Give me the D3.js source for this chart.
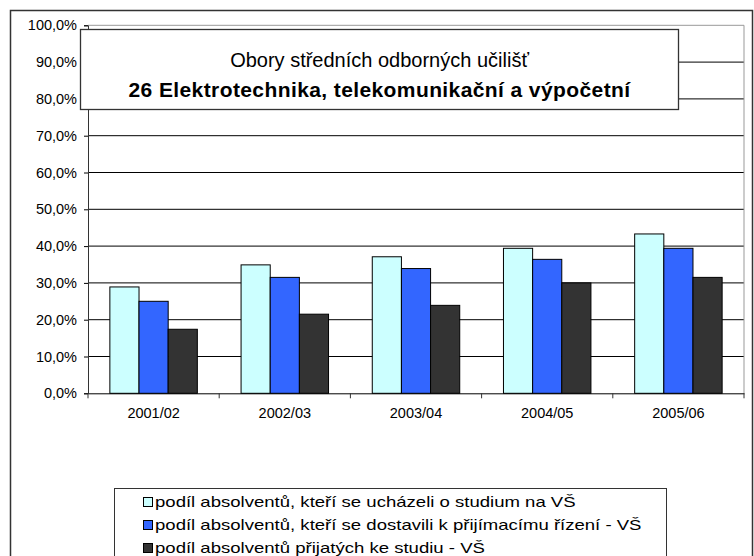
<!DOCTYPE html>
<html><head><meta charset="utf-8">
<script src="https://cdn.jsdelivr.net/npm/d3@7/dist/d3.min.js"></script>
<style>body{margin:0;background:#fff}svg{display:block;font-family:"Liberation Sans",Arial,sans-serif}</style>
</head><body>
<script>
const categories = ["2001/02","2002/03","2003/04","2004/05","2005/06"];
const seriesNames = [
  "podíl absolventů, kteří se ucházeli o studium na VŠ",
  "podíl absolventů, kteří se dostavili k přijímacímu řízení - VŠ",
  "podíl absolventů přijatých ke studiu - VŠ"
];
const applied  = [28.9, 34.9, 37.1, 39.4, 43.3];
const attended = [25.0, 31.5, 33.9, 36.4, 39.4];
const accepted = [17.4, 21.5, 23.9, 30.0, 31.5];
const yTicks = [0,10,20,30,40,50,60,70,80,90,100];
const colors = ["#CCFFFF","#3366FF","#333333"];
const titleLines = ["Obory středních odborných učilišť","26 Elektrotechnika, telekomunikační a výpočetní"];

const W=754,H=556;
const svg=d3.select("body").append("svg").attr("width",W).attr("height",H);
svg.append("rect").attr("x",10.5).attr("y",10.5).attr("width",742).attr("height",600).attr("fill","#fff").attr("stroke","#333").attr("stroke-width",1.5);

const L=88,R=744,T=25.3,B=393.3;
const x=d3.scaleBand().domain(categories).range([L,R]).paddingInner(0).paddingOuter(0);
const y=d3.scaleLinear().domain([0,100]).range([B,T]);
const series=[applied,attended,accepted];
const bw=x.bandwidth()/(3+1.5);
const x1=d3.scaleBand().domain([0,1,2]).range([0,bw*3]);

// gridlines
svg.append("g").selectAll("line").data(yTicks.filter(d=>d>0)).join("line")
  .attr("x1",L).attr("x2",R).attr("y1",d=>y(d)).attr("y2",d=>y(d))
  .attr("stroke",d=>d===100?"#999":"#000").attr("stroke-width",1);
svg.append("line").attr("x1",R).attr("x2",R).attr("y1",T).attr("y2",B).attr("stroke","#999");

// bars
const g=svg.append("g");
series.forEach((vals,si)=>{
  g.selectAll(null).data(vals).join("rect")
   .attr("x",(d,i)=>x(categories[i])+bw*0.75+x1(si))
   .attr("y",d=>y(d)).attr("width",x1.bandwidth()).attr("height",d=>B-y(d))
   .attr("fill",colors[si]).attr("stroke","#000").attr("stroke-width",1);
});

// axes
const ya=svg.append("g").attr("transform",`translate(${L},0)`)
  .call(d3.axisLeft(y).tickValues(yTicks).tickSize(4).tickPadding(7).tickFormat(d=>d.toFixed(1).replace(".",",")+"%"));
ya.select(".domain").attr("stroke","#333");
ya.selectAll("text").attr("font-size",14.5).attr("fill","#000").attr("font-family","Liberation Sans, Arial, sans-serif");
const xa=svg.append("g").attr("transform",`translate(0,${B})`)
  .call(d3.axisBottom(x).tickSize(0).tickPadding(14));
xa.select(".domain").attr("stroke","#000");
xa.selectAll("text").attr("font-size",14.5).attr("fill","#000").attr("font-family","Liberation Sans, Arial, sans-serif");
svg.append("g").selectAll("line").data(d3.range(categories.length+1)).join("line")
  .attr("x1",i=>L+i*x.bandwidth()).attr("x2",i=>L+i*x.bandwidth()).attr("y1",B).attr("y2",B+5).attr("stroke","#333");

// title box
svg.append("rect").attr("x",80.5).attr("y",29.5).attr("width",598).attr("height",80).attr("fill","#fff").attr("stroke","#333").attr("stroke-width",1.3);
svg.append("text").attr("x",379.5).attr("y",67).attr("text-anchor","middle").attr("font-size",20).text(titleLines[0]);
svg.append("text").attr("x",379.5).attr("y",97).attr("text-anchor","middle").attr("font-size",21).attr("letter-spacing",0.4).attr("font-weight","bold").text(titleLines[1]);

// legend
svg.append("rect").attr("x",114.5).attr("y",488.5).attr("width",552).attr("height",80).attr("fill","#fff").attr("stroke","#333");
const lg=svg.append("g");
seriesNames.forEach((n,i)=>{
  const cy=502+i*23;
  lg.append("rect").attr("x",143.5).attr("y",cy-4.5).attr("width",9).attr("height",9).attr("fill",colors[i]).attr("stroke","#000");
  lg.append("text").attr("transform",`translate(155,${cy+4.5}) scale(1.28,1)`).attr("font-size",14.5).text(n);
});
</script>
</body></html>
